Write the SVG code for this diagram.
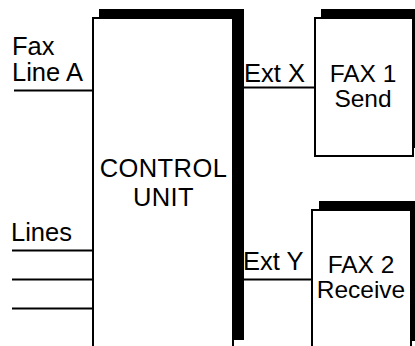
<svg xmlns="http://www.w3.org/2000/svg" width="415" height="346" viewBox="0 0 415 346">
<style>
text{font-family:"Liberation Sans",Arial,sans-serif;font-size:25.5px;fill:#000}
.c{text-anchor:middle}
.big{font-size:25.5px;letter-spacing:0.4px}
.fx{font-size:24.5px}
.box{fill:#fff;stroke:#000;stroke-width:2}
.sh{fill:#000}
.ln{stroke:#000;stroke-width:2;fill:none}
</style>
<rect width="415" height="346" fill="#fff"/>
<g id="connectors">
<line class="ln" x1="14" y1="90.5" x2="93" y2="90.5"/>
<line class="ln" x1="12" y1="250.5" x2="93" y2="250.5"/>
<line class="ln" x1="12" y1="279.5" x2="93" y2="279.5"/>
<line class="ln" x1="12" y1="308.5" x2="93" y2="308.5"/>
<line class="ln" x1="243" y1="87.5" x2="314" y2="87.5"/>
<line class="ln" x1="243" y1="279.5" x2="312" y2="279.5"/>
</g>
<g id="labels">
<text x="12" y="55">Fax</text>
<text x="12" y="81">Line A</text>
<text x="11" y="241">Lines</text>
<text x="244" y="82">Ext X</text>
<text x="243" y="270">Ext Y</text>
</g>
<g id="control-unit">
<rect class="sh" x="99" y="9" width="145" height="331"/>
<rect class="box" x="93" y="18" width="140" height="340"/>
<text class="c big" x="163.5" y="177">CONTROL</text>
<text class="c big" x="163.5" y="206">UNIT</text>
</g>
<g id="fax1">
<rect class="sh" x="321" y="9" width="100" height="139"/>
<rect class="box" x="315" y="18" width="98" height="138"/>
<text class="c fx" x="363" y="82">FAX 1</text>
<text class="c fx" x="363" y="107">Send</text>
</g>
<g id="fax2">
<rect class="sh" x="319" y="201" width="100" height="140"/>
<rect class="box" x="312" y="210" width="99" height="140"/>
<text class="c fx" x="361" y="273">FAX 2</text>
<text class="c fx" x="361" y="298">Receive</text>
</g>
</svg>
